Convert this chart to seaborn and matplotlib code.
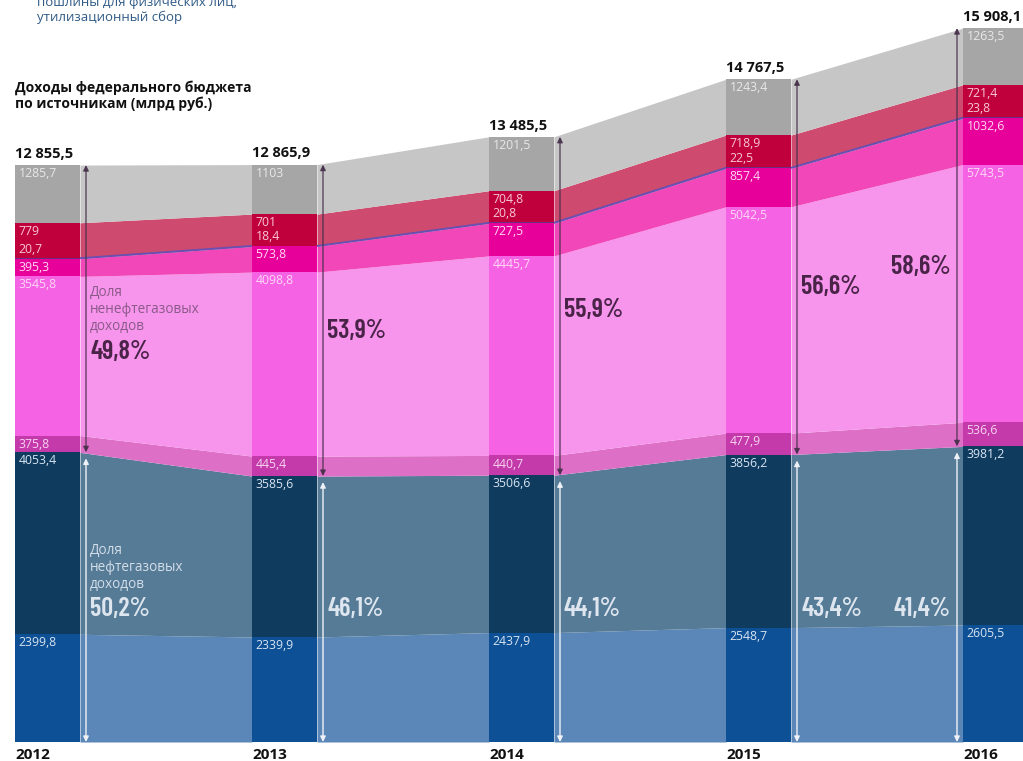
import matplotlib.pyplot as plt
import numpy as np
import seaborn as sns

years = ["2012", "2013", "2014", "2015", "2016"]

# слои снизу вверх, млрд руб.
blue = [2399.8, 2339.9, 2437.9, 2548.7, 2605.5]
navy = [4053.4, 3585.6, 3506.6, 3856.2, 3981.2]
violet = [375.8, 445.4, 440.7, 477.9, 536.6]
pink = [3545.8, 4098.8, 4445.7, 5042.5, 5743.5]
hotpink = [395.3, 573.8, 727.5, 857.4, 1032.6]
thin = [20.7, 18.4, 20.8, 22.5, 23.8]
crimson = [779, 701, 704.8, 718.9, 721.4]
gray = [1285.7, 1103, 1201.5, 1243.4, 1263.5]

layers = [blue, navy, violet, pink, hotpink, thin, crimson, gray]
bar_colors = ["#0d5096", "#0f3b5f", "#c43aab", "#f562e4", "#e8009a", "#6b2d84", "#c0003c", "#a6a6a6"]
band_colors = ["#5a87b8", "#567b97", "#de6fc7", "#f794ec", "#f247b8", "#6a4fb0", "#cf4a6f", "#c6c6c6"]
label_colors = ["#d8e4f1", "#d8e4f1", "#f8d2f0", "#fcd8f6", "#ffd8f1", "#f7c9d5", "#f7c9d5", "#e8e8e8"]

# layout in pixels of the 1023x761 picture
SPACING = 237.0
BAR_W = 65 / SPACING
K = 1 / 0.04488  # units per pixel vertically
nonoil_text_y = [352, 331, 310, 287, 267]
oil_text_y = 609


def px(d):
    return d / SPACING


def py(y):
    return (742 - y) * K


def fmt(v):
    s = f"{v:.1f}".rstrip("0").rstrip(".")
    return s.replace(".", ",")


def fmt_total(v):
    s = f"{v:,.1f}".replace(",", " ").replace(".", ",")
    return s


sns.set_theme(style="white")
plt.rcParams["font.family"] = ["Open Sans", "DejaVu Sans"]
narrow = ["Barlow Condensed", "Archivo Narrow", "DejaVu Sans"]

fig = plt.figure(figsize=(10.23, 7.61), dpi=100)
ax = fig.add_axes([0, 0, 1, 1])
ax.set_xlim(px(-15), px(1008))
ax.set_ylim(py(761), py(0))
ax.axis("off")

data = np.array(layers)
tops = np.cumsum(data, axis=0)
bases = tops - data
x = np.arange(len(years))
totals = tops[-1]
oil_top = tops[1]

# bands between bars
for k in range(len(layers)):
    for i in range(len(years) - 1):
        xs = [i + BAR_W, i + 1]
        ax.fill_between(xs, bases[k, i:i + 2], tops[k, i:i + 2], color=band_colors[k], lw=0, zorder=1)
    if k == 5:
        for i in range(len(years) - 1):
            mid = (bases[k, i:i + 2] + tops[k, i:i + 2]) / 2
            ax.plot([i + BAR_W, i + 1], mid, color=band_colors[k], lw=1.3, zorder=2)

# bars
for k in range(len(layers)):
    ax.bar(x, data[k], width=BAR_W, bottom=bases[k], align="edge", color=bar_colors[k], lw=0, zorder=3)
    for i in range(len(years)):
        if k == 5:
            ax.annotate(fmt(data[k, i]), (i, tops[k, i]), xytext=(2.5, 1.5), textcoords="offset points",
                        ha="left", va="bottom", fontsize=8.8, color=label_colors[k], zorder=5)
        else:
            ax.annotate(fmt(data[k, i]), (i, tops[k, i]), xytext=(2.5, -1.5), textcoords="offset points",
                        ha="left", va="top", fontsize=8.8, color=label_colors[k], zorder=5)

for i in range(len(years)):
    ax.annotate(fmt_total(totals[i]), (i, totals[i]), xytext=(0, 3), textcoords="offset points",
                ha="left", va="bottom", fontsize=10.5, fontweight="bold", color="#111111")
    ax.annotate(years[i], (i, 0), xytext=(0, -4), textcoords="offset points",
                ha="left", va="top", fontsize=11, fontweight="bold", color="#111111")

    ax_x = i + BAR_W + px(6) if i < len(years) - 1 else i - px(6)
    ax.annotate("", xy=(ax_x, totals[i]), xytext=(ax_x, oil_top[i]),
                arrowprops=dict(arrowstyle="<|-|>", color="#46304a", lw=1, mutation_scale=8,
                                shrinkA=0, shrinkB=0, alpha=0.85), zorder=6)
    ax.annotate("", xy=(ax_x, oil_top[i] - 6 * K), xytext=(ax_x, 0),
                arrowprops=dict(arrowstyle="<|-|>", color="#eef2f7", lw=1, mutation_scale=8,
                                shrinkA=0, shrinkB=0), zorder=6)

    nonoil = (totals[i] - oil_top[i]) / totals[i] * 100
    oil = oil_top[i] / totals[i] * 100
    if i < len(years) - 1:
        tx, ha = ax_x + px(4), "left"
    else:
        tx, ha = ax_x - px(6), "right"
    ax.text(tx, py(nonoil_text_y[i]), f"{nonoil:.1f}%".replace(".", ","), family=narrow,
            fontstretch="condensed", fontsize=19, fontweight="semibold", color="#4a2448",
            ha=ha, va="center", zorder=6)
    ax.text(tx, py(oil_text_y), f"{oil:.1f}%".replace(".", ","), family=narrow,
            fontstretch="condensed", fontsize=19, fontweight="semibold", color="#dde5ee",
            ha=ha, va="center", zorder=6)

ax.text(px(75), py(285), "Доля\nненефтегазовых\nдоходов", fontsize=9.8, color="#8a5a88",
        ha="left", va="top", linespacing=1.2, zorder=6)
ax.text(px(75), py(543), "Доля\nнефтегазовых\nдоходов", fontsize=9.8, color="#d3dde8",
        ha="left", va="top", linespacing=1.2, zorder=6)

ax.text(px(0), py(80), "Доходы федерального бюджета\nпо источникам (млрд руб.)", fontsize=10,
        fontweight="bold", color="#111111", ha="left", va="top", linespacing=1.15)
ax.text(px(22), py(-4), "пошлины для физических лиц,\nутилизационный сбор", fontsize=9.5,
        color="#2f5a86", ha="left", va="top", linespacing=1.2)

fig.savefig("out.png", dpi=100)
